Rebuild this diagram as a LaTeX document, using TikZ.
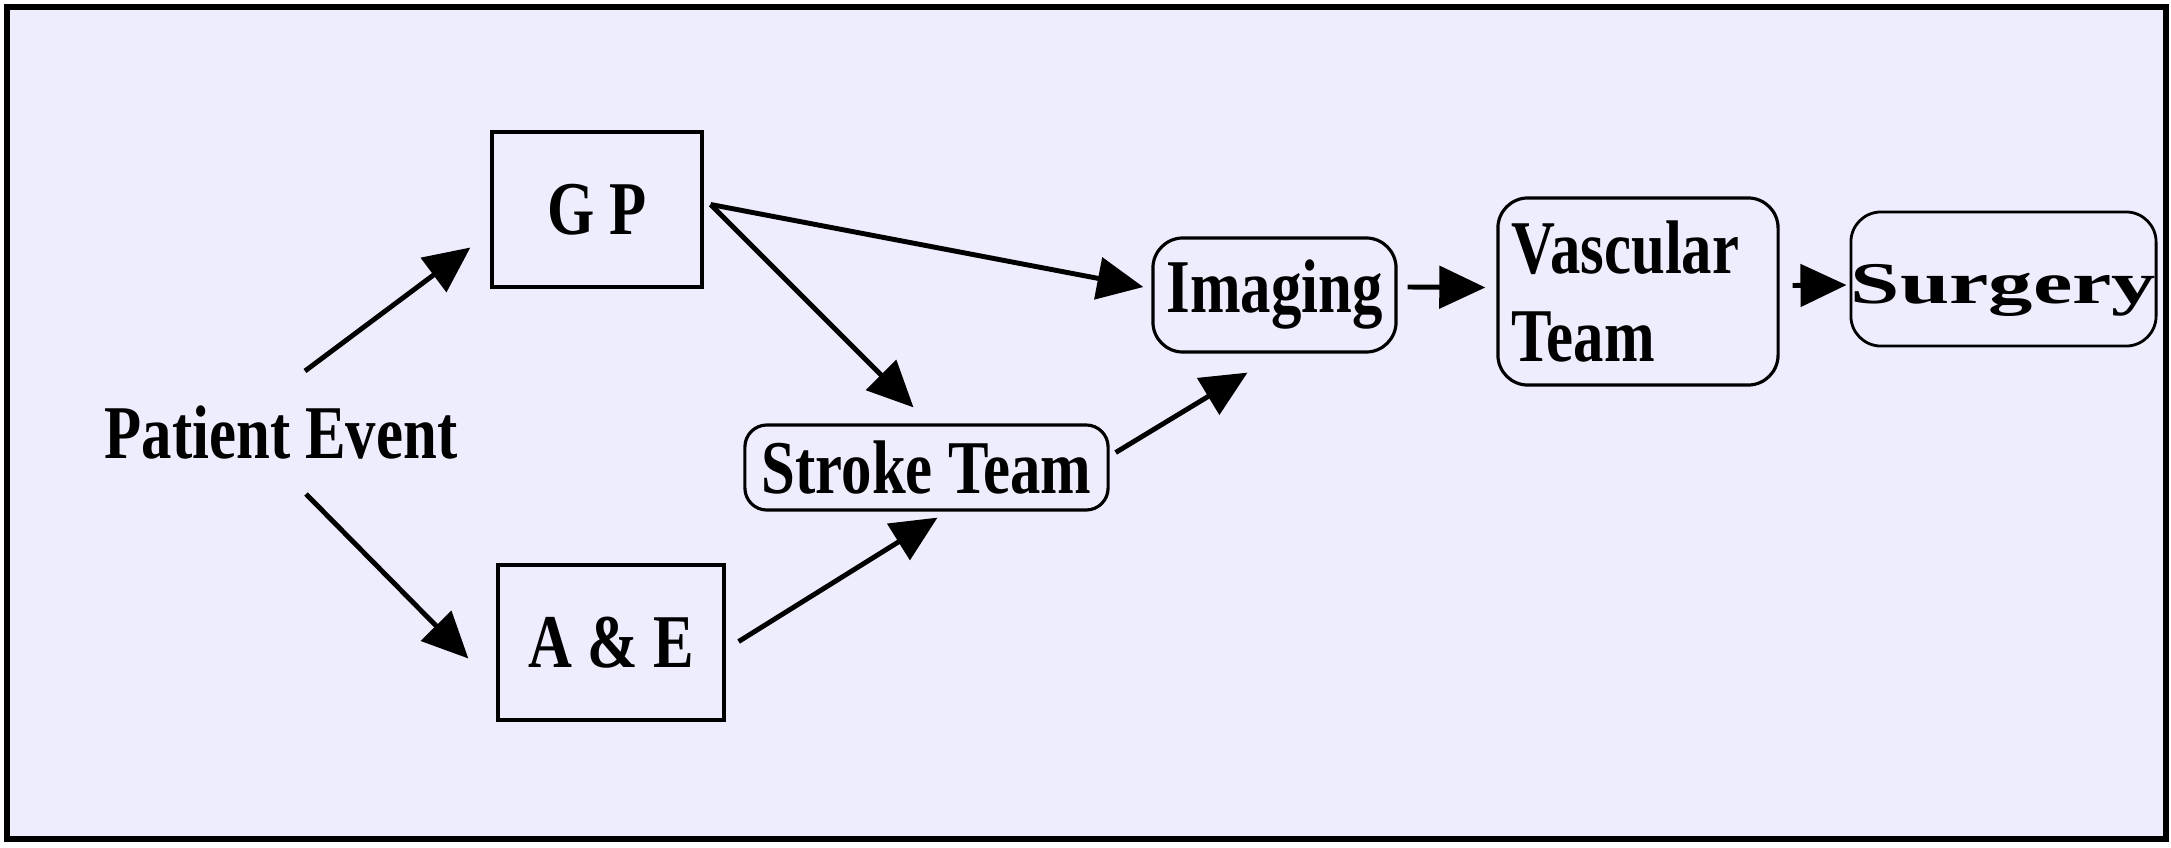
\documentclass[tikz,border=0pt]{standalone}
\usepackage{fontspec}
\usepackage{tikz}
\usetikzlibrary{arrows.meta}
\newfontfamily\diagfont{Liberation Serif}[FakeStretch=0.8]
\newfontfamily\surgfont{Liberation Serif}[FakeStretch=1.5]
\definecolor{pathbg}{HTML}{EDEDFD}

\begin{document}
\begin{tikzpicture}[x=0.01cm, y=-0.01cm,
  pathtext/.style={font=\diagfont\bfseries\fontsize{21.6}{25.3}\selectfont, inner sep=0pt},
  sqbox/.style={pathtext, draw, line width=0.9pt, minimum width=#1, minimum height=1.55cm},
  rndbox/.style={pathtext, draw, line width=0.9pt, rounded corners=0.25cm},
  flow/.style={-{Triangle[length=0.46cm, width=0.42cm]}, line width=1.4pt}
]
  \useasboundingbox (0,0) rectangle (2171,848);
  \fill[white] (0,0) rectangle (2171,848);
  \draw[line width=1.45pt, fill=pathbg] (7,7) rectangle (2166,839);

  \node[pathtext] (event) at (281,433) {Patient Event};
  \node[sqbox=2.10cm] (gp) at (597,209.5) {G P};
  \node[sqbox=2.26cm] (ae) at (611,642.5) {A \& E};
  \node[rndbox, minimum width=3.63cm, minimum height=0.85cm, rounded corners=0.22cm] (stroke) at (926.5,467.5) {Stroke Team};
  \node[rndbox, minimum width=2.43cm, minimum height=1.14cm, rounded corners=0.3cm] (imaging) at (1274.5,295) {Imaging};
  \node[rndbox, minimum width=2.80cm, minimum height=1.87cm, text width=2.52cm, align=left, rounded corners=0.3cm] (vascular) at (1638,291.5) {Vascular\\Team};
  \node[rndbox, minimum width=3.01cm, minimum height=1.34cm, rounded corners=0.3cm, line width=0.8pt, text height=0.5cm, text depth=0.02cm, font=\surgfont\bfseries\fontsize{16.8}{20}\selectfont] (surgery) at (2003.5,279) {Surgery};

  \draw[flow] ([shift={(24,-62)}]event.center) -- ([shift={(-20,38)}]gp.west);
  \draw[flow] ([shift={(25,61)}]event.center) -- ([shift={(-28,16)}]ae.west);
  \draw[flow] ([shift={(7,-5)}]gp.east) -- ([shift={(-8,-8)}]imaging.west);
  \draw[flow] ([shift={(7,-5)}]gp.east) -- ([shift={(-13,-16)}]stroke.north);
  \draw[flow] ([shift={(13,-1)}]ae.east) -- ([shift={(11,6)}]stroke.south);
  \draw[flow] ([shift={(6,-15)}]stroke.east) -- ([shift={(-27,19)}]imaging.south);
  \draw[flow] ([shift={(10,-8)}]imaging.east) -- ([shift={(-11,-4)}]vascular.west);
  \draw[flow] ([shift={(13,-6)}]vascular.east) -- ([shift={(-3,6)}]surgery.west);
\end{tikzpicture}
\end{document}
